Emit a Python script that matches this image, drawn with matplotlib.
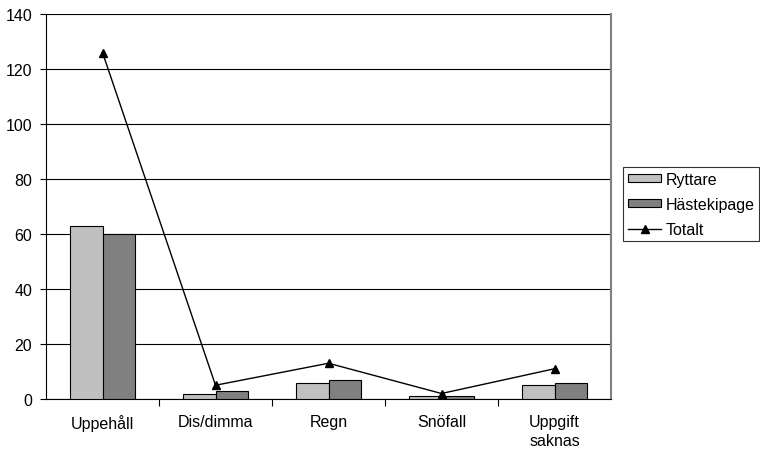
import numpy as np
import matplotlib
matplotlib.use("Agg")
import matplotlib.pyplot as plt

plt.rcParams['font.family'] = ['Liberation Sans', 'DejaVu Sans']

kategorier = ['Uppehåll', 'Dis/dimma', 'Regn', 'Snöfall', 'Uppgift\nsaknas']
ryttare = [63, 2, 6, 1, 5]
hastekipage = [60, 3, 7, 1, 6]
totalt = [126, 5, 13, 2, 11]

fs = 11.5

fig = plt.figure(figsize=(7.6, 4.52), dpi=100)
ax = fig.add_axes([46 / 760, 1 - 400 / 452, (611 - 46) / 760, (400 - 15) / 452])

x = np.arange(len(kategorier))
w = 0.29
b1 = ax.bar(x - w / 2, ryttare, w, color='#c0c0c0', edgecolor='black', linewidth=0.8,
            label='Ryttare', zorder=3)
b2 = ax.bar(x + w / 2, hastekipage, w, color='#808080', edgecolor='black', linewidth=0.8,
            label='Hästekipage', zorder=3)
l1, = ax.plot(x, totalt, color='black', linewidth=1, marker='^', markersize=6,
              label='Totalt', zorder=4)

ax.set_xlim(-0.5, len(kategorier) - 0.5)
ax.set_ylim(0, 140)
ax.set_yticks(range(0, 141, 20))
ax.yaxis.grid(True, color='black', linewidth=0.8, zorder=0)
ax.set_axisbelow(True)

ax.set_xticks(x)
ax.set_xticklabels(kategorier, fontsize=fs, linespacing=1.35)
ax.tick_params(axis='x', length=0, pad=11)
ax.set_xticks(np.arange(0.5, len(kategorier) - 1, 1), minor=True)
ax.tick_params(axis='x', which='minor', length=5, width=0.8, direction='out')
ax.tick_params(axis='y', length=4, width=0.8, direction='out', labelsize=fs, pad=6)

ax.spines['top'].set_visible(False)
ax.spines['right'].set_color('#808080')
ax.spines['right'].set_linewidth(1.5)
ax.spines['left'].set_linewidth(0.8)
ax.spines['bottom'].set_linewidth(0.8)

leg = fig.legend([b1, b2, l1], ['Ryttare', 'Hästekipage', 'Totalt'],
                 loc='upper left', bbox_to_anchor=(623 / 760, 1 - 168 / 452),
                 fontsize=fs, frameon=True, fancybox=False, edgecolor='black',
                 handlelength=2.1, handleheight=0.45, borderpad=0.3, labelspacing=0.62,
                 handletextpad=0.25, borderaxespad=0)
leg.get_frame().set_linewidth(0.8)

fig.savefig('out.png', dpi=100)
